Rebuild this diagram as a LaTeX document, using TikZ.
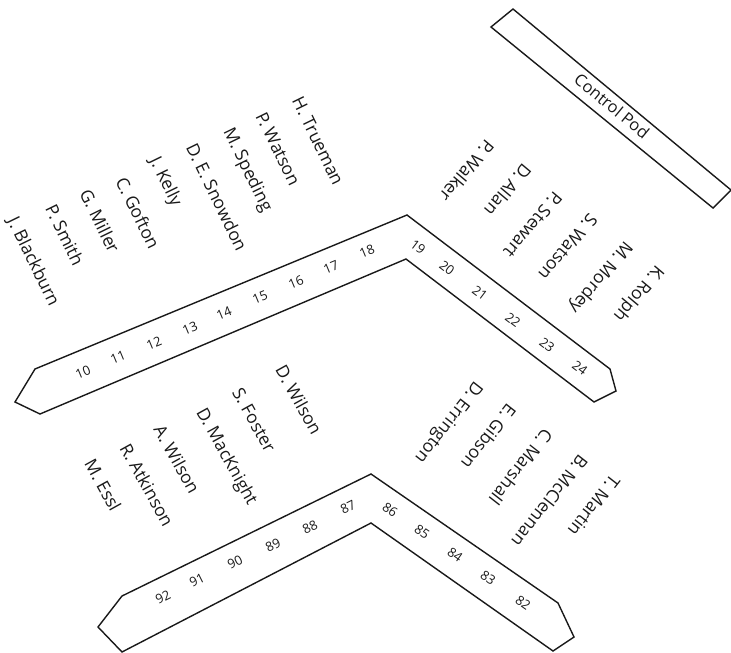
\documentclass[tikz,border=0pt]{standalone}
\usepackage{fontspec}
\setmainfont{Open Sans}
\begin{document}
\begin{tikzpicture}[x=1pt,y=-1pt,
  outline/.style={draw=black!90, line width=1.4pt, line join=miter},
  nm/.style={font=\fontsize{17.5}{17.5}\selectfont, text=black!90, inner sep=0pt},
  num/.style={font=\fontsize{13}{13}\selectfont, text=black!90, inner sep=0pt},
  ul/.style={nm, rotate=-64},
  ur/.style={nm, rotate=-130},
  ll/.style={nm, rotate=-61},
  lr/.style={nm, rotate=-128}]
\useasboundingbox (0,0) rectangle (731,653);

% Control pod
\draw[outline] (513,9) -- (491,27) -- (713,208) -- (731,190) -- cycle;
\node[nm, font=\fontsize{16.5}{16.5}\selectfont, rotate=-39.5] (pod) at (612,106) {Control Pod};

% Upper L-shaped bench
\draw[outline] (35,369) -- (407,215) -- (610,369) -- (616,391) -- (594,402)
  -- (406,259) -- (40,414) -- (15,402) -- cycle;

% Lower L-shaped bench
\draw[outline] (122,596) -- (371,474) -- (558,603) -- (574,637) -- (553,651)
  -- (371,523) -- (122,652) -- (98,627) -- cycle;

% Upper numbers
\node[num, rotate=22.5] (n10) at (83,372) {10};
\node[num, rotate=22.5] (n11) at (118,357) {11};
\node[num, rotate=22.5] (n12) at (154,343) {12};
\node[num, rotate=22.5] (n13) at (190,328) {13};
\node[num, rotate=22.5] (n14) at (224,313) {14};
\node[num, rotate=22.5] (n15) at (260,297) {15};
\node[num, rotate=22.5] (n16) at (296,282) {16};
\node[num, rotate=22.5] (n17) at (331,267) {17};
\node[num, rotate=22.5] (n18) at (367,251) {18};
\node[num, rotate=-37] (n19) at (418,247) {19};
\node[num, rotate=-37] (n20) at (447,268) {20};
\node[num, rotate=-37] (n21) at (480,293) {21};
\node[num, rotate=-37] (n22) at (513,320) {22};
\node[num, rotate=-37] (n23) at (547,345) {23};
\node[num, rotate=-37] (n24) at (580,368) {24};

% Lower numbers
\node[num, rotate=26.5] (n92) at (163,597) {92};
\node[num, rotate=26.5] (n91) at (197,580) {91};
\node[num, rotate=26.5] (n90) at (235,562) {90};
\node[num, rotate=26.5] (n89) at (273,545) {89};
\node[num, rotate=26.5] (n88) at (310,527) {88};
\node[num, rotate=26.5] (n87) at (348,507) {87};
\node[num, rotate=-35] (n86) at (390,510) {86};
\node[num, rotate=-35] (n85) at (422,532) {85};
\node[num, rotate=-35] (n84) at (455,555) {84};
\node[num, rotate=-35] (n83) at (488,578) {83};
\node[num, rotate=-35] (n82) at (523,603) {82};

% Upper-left names
\node[ul] (a1) at (318,141) {H. Trueman};
\node[ul] (a2) at (278,149) {P. Watson};
\node[ul] (a3) at (247,170) {M. Speding};
\node[ul] (a4) at (217,197) {D. E. Snowdon};
\node[ul] (a5) at (165,182) {J. Kelly};
\node[ul] (a6) at (138,213) {C. Gofton};
\node[ul] (a7) at (100,221) {G. Miller};
\node[ul] (a8) at (65,235) {P. Smith};
\node[ul] (a9) at (33,262) {J. Blackburn};

% Upper-right names
\node[ur] (b1) at (467,171) {P. Walker};
\node[ur] (b2) at (508,190) {D. Allan};
\node[ur] (b3) at (533,225) {P. Stewart};
\node[ur] (b4) at (568,247) {S. Watson};
\node[ur] (b5) at (600,277) {M. Mordey};
\node[ur] (b6) at (638,293) {K. Rolph};

% Lower-left names
\node[ll] (c1) at (299,400) {D. Wilson};
\node[ll] (c2) at (254,420) {S. Foster};
\node[ll] (c3) at (226,457) {D. MacKnight};
\node[ll] (c4) at (177,459) {A. Wilson};
\node[ll] (c5) at (147,485) {R. Atkinson};
\node[ll] (c6) at (103,485) {M. Essl};

% Lower-right names
\node[lr] (d1) at (448,422) {D. Errington};
\node[lr] (d2) at (489,437) {E. Gibson};
\node[lr] (d3) at (521,467) {C. Marshall};
\node[lr] (d4) at (550,501) {B. McClennan};
\node[lr] (d5) at (594,506) {T. Martin};
\end{tikzpicture}
\end{document}
